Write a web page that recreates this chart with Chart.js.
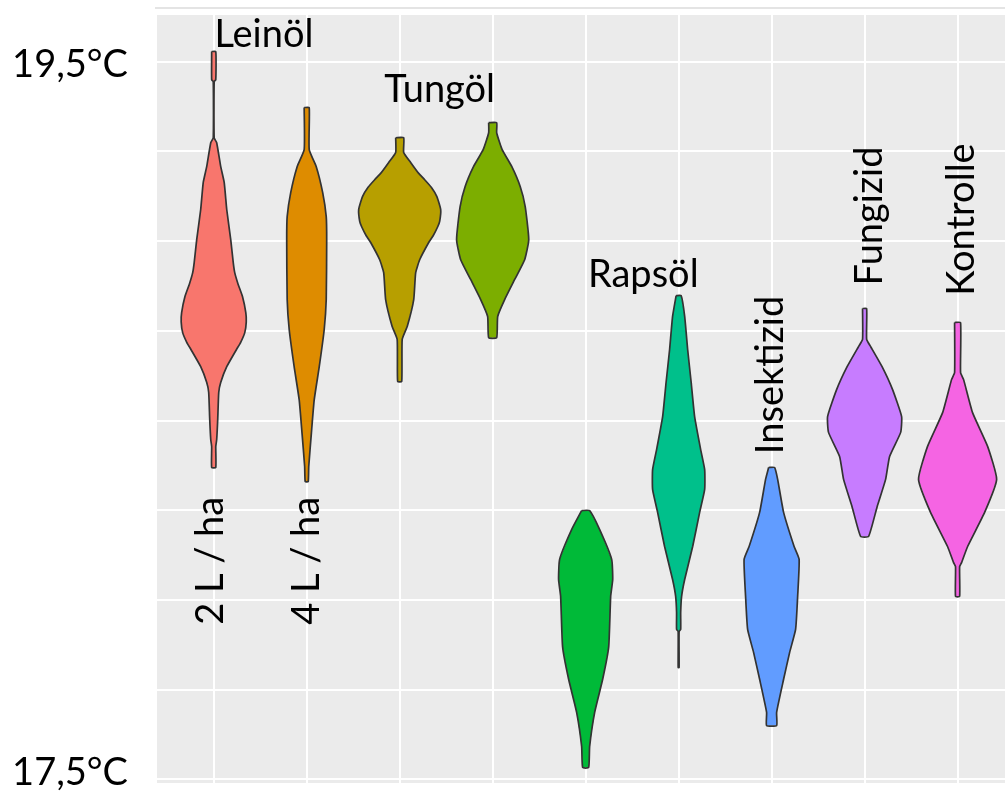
<!DOCTYPE html>
<html lang="de">
<head>
<meta charset="utf-8">
<title>Temperatur je Behandlung</title>
<script src="https://cdn.jsdelivr.net/npm/chart.js@4.4.1/dist/chart.umd.min.js"></script>
<style>
  html, body { margin: 0; padding: 0; background: #ffffff; overflow: hidden; }
  canvas { display: block; }
</style>
</head>
<body>
<canvas id="chart" width="1005" height="792"></canvas>
<script>
// treatments, left to right (x = 1..9)
const categories = [
  "Leinöl 2 L/ha", "Leinöl 4 L/ha", "Tungöl 2 L/ha", "Tungöl 4 L/ha",
  "Rapsöl 2 L/ha", "Rapsöl 4 L/ha", "Insektizid", "Fungizid", "Kontrolle",
];
const colors = [
  "#F8766D", "#DE8C00", "#B79F00", "#7CAE00",
  "#00BA38", "#00C08B", "#619CFF", "#C77CFF", "#F564E3",
];

// violin outlines: temperature (°C) and half width (density, x units)
const leinol_2_temps = [19.528, 19.45, 19.444, 19.288, 19.274, 19.208, 19.163, 19.088, 19.004, 18.94, 18.912, 18.88, 18.845, 18.801, 18.775, 18.745, 18.718, 18.698, 18.65, 18.606, 18.578, 18.503, 18.447, 18.428, 18.369];
const leinol_2_widths = [0.022, 0.022, 0.005, 0.005, 0.032, 0.075, 0.113, 0.14, 0.183, 0.21, 0.226, 0.262, 0.31, 0.345, 0.35, 0.334, 0.29, 0.245, 0.14, 0.075, 0.054, 0.043, 0.032, 0.022, 0.022];

const leinol_4_temps = [19.372, 19.255, 19.208, 19.135, 19.068, 19.004, 18.837, 18.753, 18.65, 18.558, 18.467, 18.372, 18.33];
const leinol_4_widths = [0.027, 0.027, 0.102, 0.172, 0.21, 0.215, 0.21, 0.188, 0.135, 0.081, 0.051, 0.022, 0.016];

const tungol_2_temps = [19.288, 19.247, 19.219, 19.19, 19.171, 19.15, 19.124, 19.088, 19.055, 19.04, 19.015, 18.996, 18.948, 18.912, 18.837, 18.762, 18.726, 18.609];
const tungol_2_widths = [0.043, 0.043, 0.118, 0.2, 0.269, 0.34, 0.4, 0.441, 0.43, 0.409, 0.36, 0.312, 0.215, 0.172, 0.151, 0.081, 0.027, 0.022];

const tungol_4_temps = [19.33, 19.302, 19.255, 19.208, 19.152, 19.096, 19.004, 18.948, 18.893, 18.837, 18.79, 18.731];
const tungol_4_widths = [0.043, 0.043, 0.102, 0.205, 0.296, 0.35, 0.388, 0.344, 0.237, 0.129, 0.054, 0.043];

const rapsol_2_temps = [18.249, 18.196, 18.113, 18.057, 18.01, 17.87, 17.779, 17.687, 17.592, 17.533];
const rapsol_2_widths = [0.043, 0.151, 0.28, 0.291, 0.269, 0.248, 0.183, 0.097, 0.043, 0.032];

const rapsol_4_temps = [18.848, 18.79, 18.698, 18.606, 18.511, 18.419, 18.363, 18.308, 18.244, 18.149, 18.057, 18.01, 17.965, 17.918, 17.912, 17.812];
const rapsol_4_widths = [0.027, 0.065, 0.097, 0.135, 0.172, 0.237, 0.28, 0.28, 0.226, 0.151, 0.065, 0.032, 0.022, 0.022, 0.005, 0.005];

const insektizid_temps = [18.369, 18.336, 18.244, 18.149, 18.113, 18.01, 17.918, 17.854, 17.779, 17.687, 17.65];
const insektizid_widths = [0.032, 0.065, 0.129, 0.242, 0.296, 0.28, 0.258, 0.194, 0.129, 0.054, 0.054];

const fungizid_temps = [18.812, 18.726, 18.706, 18.65, 18.586, 18.511, 18.467, 18.4, 18.336, 18.26, 18.177];
const fungizid_widths = [0.022, 0.022, 0.065, 0.188, 0.301, 0.398, 0.388, 0.269, 0.226, 0.135, 0.043];

const kontrolle_temps = [18.773, 18.634, 18.614, 18.522, 18.428, 18.336, 18.244, 18.149, 18.104, 18.093, 18.01];
const kontrolle_widths = [0.032, 0.032, 0.065, 0.161, 0.323, 0.42, 0.291, 0.108, 0.043, 0.022, 0.022];

const all_temps = [leinol_2_temps, leinol_4_temps, tungol_2_temps, tungol_4_temps, rapsol_2_temps, rapsol_4_temps, insektizid_temps, fungizid_temps, kontrolle_temps];
const all_widths = [leinol_2_widths, leinol_4_widths, tungol_2_widths, tungol_4_widths, rapsol_2_widths, rapsol_4_widths, insektizid_widths, fungizid_widths, kontrolle_widths];

// y tick labels shown at the left
const y_tick_values = [19.5, 17.5];
const y_tick_labels = ["19,5°C", "17,5°C"];

// annotations inside the panel (x in category units, y in °C)
const label_texts = ["Leinöl", "Tungöl", "Rapsöl", "Insektizid", "Fungizid", "Kontrolle", "2 L / ha", "4 L / ha"];
const label_x = [1.54, 3.43, 5.62, 6.97, 8.04, 9.025, 0.957, 1.98];
const label_y = [19.578, 19.425, 18.91, 18.627, 19.07, 19.06, 18.109, 18.109];
const label_rotated = [false, false, false, true, true, true, true, true];

const FONT_SIZE = 38;
const FONT = FONT_SIZE + "px Lato, 'Open Sans', sans-serif";

function violinPoints(center, temps, widths) {
  const left = temps.map((t, i) => ({ x: center - widths[i], y: t }));
  const right = temps.map((t, i) => ({ x: center + widths[i], y: t })).reverse();
  return left.concat(right, [left[0]]);
}

const panel_background = {
  id: "panelBackground",
  beforeDraw(chart) {
    const { ctx, chartArea } = chart;
    ctx.save();
    ctx.fillStyle = "#EBEBEB";
    ctx.fillRect(chartArea.left, chartArea.top, chartArea.right - chartArea.left, chartArea.bottom - chartArea.top);
    // thin frame line above the panel
    ctx.fillStyle = "#e4e4e4";
    ctx.fillRect(chartArea.left - 2, chartArea.top - 8, chartArea.right - chartArea.left + 2, 2);
    ctx.restore();
  },
};

// fill each violin polygon before its outline is drawn
const violin_fill = {
  id: "violinFill",
  beforeDatasetDraw(chart, args) {
    const points = args.meta.data;
    const ctx = chart.ctx;
    ctx.save();
    ctx.beginPath();
    points.forEach((p, i) => (i ? ctx.lineTo(p.x, p.y) : ctx.moveTo(p.x, p.y)));
    ctx.closePath();
    ctx.fillStyle = chart.data.datasets[args.index].backgroundColor;
    ctx.fill();
    ctx.restore();
  },
};

const text_labels = {
  id: "textLabels",
  afterDatasetsDraw(chart) {
    const { ctx, scales, chartArea } = chart;
    const shift = FONT_SIZE * 0.36;
    ctx.save();
    ctx.font = FONT;
    ctx.fillStyle = "#000000";
    ctx.textBaseline = "alphabetic";

    label_texts.forEach((text, i) => {
      const px = scales.x.getPixelForValue(label_x[i]);
      const py = scales.y.getPixelForValue(label_y[i]);
      ctx.save();
      ctx.translate(px, py);
      if (label_rotated[i]) ctx.rotate(-Math.PI / 2);
      ctx.textAlign = "center";
      ctx.fillText(text, 0, shift);
      ctx.restore();
    });

    // y axis labels, kept inside the canvas
    ctx.textAlign = "right";
    y_tick_values.forEach((v, i) => {
      const py = scales.y.getPixelForValue(v);
      const base = Math.min(py + shift + 2, chart.height - 7);
      ctx.fillText(y_tick_labels[i], chartArea.left - 29, base);
    });
    ctx.restore();
  },
};

document.addEventListener("DOMContentLoaded", () => {
  const datasets = categories.map((name, i) => ({
    label: name,
    data: violinPoints(i + 1, all_temps[i], all_widths[i]),
    backgroundColor: colors[i],
    borderColor: "#333333",
    borderWidth: 1.7,
    borderJoinStyle: "round",
    showLine: true,
    fill: false,
    tension: 0.15,
    pointRadius: 0,
    pointHoverRadius: 0,
  }));

  new Chart(document.getElementById("chart"), {
    type: "scatter",
    data: { datasets: datasets },
    options: {
      responsive: false,
      animation: false,
      events: [],
      layout: {
        padding: { left: 157, top: 15, right: 0, bottom: 9 },
      },
      plugins: {
        legend: { display: false },
        tooltip: { enabled: false },
      },
      scales: {
        x: {
          type: "linear",
          min: 0.39,
          max: 9.51,
          border: { display: false },
          grid: { color: "#ffffff", lineWidth: 2, drawTicks: false },
          ticks: { display: false, stepSize: 1, includeBounds: false },
        },
        y: {
          type: "linear",
          min: 17.49,
          max: 19.63,
          border: { display: false },
          grid: { color: "#ffffff", lineWidth: 2, drawTicks: false },
          ticks: { display: false, stepSize: 0.25, includeBounds: false },
        },
      },
    },
    plugins: [panel_background, violin_fill, text_labels],
  });
});
</script>
</body>
</html>
